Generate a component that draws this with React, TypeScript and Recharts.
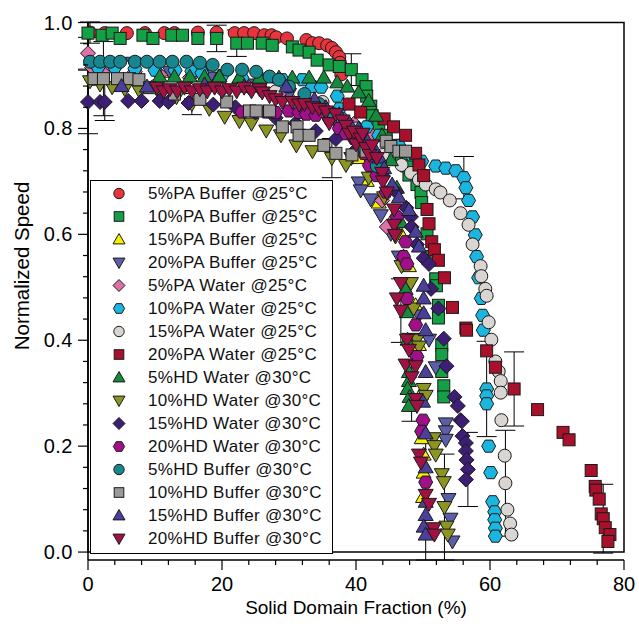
import React from 'react';
import { ScatterChart, Scatter, XAxis, YAxis, ReferenceArea, ErrorBar, Legend } from 'recharts';

type Pt = [number, number, number?];

const pa5Buffer: Pt[] = [[0.3,0.981,0.02],[2.5,0.98],[5.8,0.98],[8.5,0.98],[11.4,0.98],[12.9,0.98],[16.4,0.981],[19.2,0.981],[21.9,0.98],[23.3,0.98],[24.8,0.98],[26.3,0.976],[27.4,0.976],[28.1,0.972],[29.7,0.97],[32.6,0.967],[33.5,0.961],[34.5,0.961],[35.7,0.957],[36.4,0.952],[37.0,0.944],[37.5,0.935],[37.6,0.924],[37.8,0.902]];
const pa10Buffer: Pt[] = [[0,0.98],[2.1,0.976],[3.6,0.98],[4.8,0.97],[8.2,0.976],[9.7,0.97],[12.5,0.976],[14.1,0.976],[16.4,0.97],[19.2,0.97,0.025],[22.2,0.961,0.025],[23.8,0.961],[26.0,0.961],[27.5,0.957],[30.5,0.954],[31.5,0.948],[33.0,0.944],[34.2,0.929],[36.0,0.92],[37.5,0.917],[39.3,0.911,0.03],[40.9,0.892],[41.5,0.879],[41.6,0.861],[42.2,0.842],[42.4,0.824],[43.4,0.805],[44.5,0.787],[45.9,0.768],[46.8,0.744],[47.6,0.729],[47.9,0.712],[49.1,0.694],[49.7,0.679],[49.8,0.66],[50.6,0.601],[51.2,0.558],[51.9,0.516],[52.0,0.503],[52.3,0.466],[52.3,0.442],[52.8,0.391],[52.8,0.373],[52.8,0.341],[53.1,0.314],[53.1,0.293]];
const pa15Buffer: Pt[] = [[0.6,0.902],[7.0,0.911],[12.2,0.907],[17.4,0.907],[22.6,0.896],[26.0,0.879],[30.0,0.865],[34.5,0.846],[38.2,0.809],[40.4,0.744],[41.6,0.701],[43.4,0.66],[45.2,0.623],[46.7,0.601],[47.9,0.54],[48.9,0.466],[49.4,0.391],[49.7,0.299],[49.8,0.215],[50.1,0.184],[50.1,0.15],[50.0,0.104]];
const pa20Buffer: Pt[] = [[1.8,0.911],[6.7,0.924],[12.2,0.907],[18.1,0.896],[24.1,0.883],[30.0,0.865],[34.5,0.837],[37.5,0.8],[39.3,0.744],[40.4,0.698],[40.7,0.683],[42.2,0.666],[43.7,0.636],[45.2,0.601],[46.4,0.558],[47.9,0.503],[49.4,0.447],[50.9,0.401],[51.9,0.349],[53.4,0.243],[53.4,0.228],[53.4,0.212],[53.8,0.1],[54.1,0.063],[54.4,0.02]];
const pa5Water: Pt[] = [[0,0.942,0.03],[0.6,0.915],[2.1,0.907],[4.0,0.915],[7.0,0.907],[10.7,0.902],[15.2,0.896],[19.6,0.889],[24.1,0.877],[28.5,0.865],[33.0,0.846],[37.2,0.833],[39.7,0.809],[42.4,0.787],[43.1,0.744],[43.9,0.664],[44.6,0.614]];
const pa10Water: Pt[] = [[1.5,0.915],[4.0,0.915],[7.0,0.913],[10.0,0.91],[13.0,0.91],[15.5,0.908],[17.0,0.905],[20.0,0.9],[23.0,0.895],[26.0,0.893],[29.0,0.892],[32.0,0.892],[33.5,0.879],[34.8,0.878],[37.2,0.861],[37.5,0.837],[37.9,0.818],[41.6,0.803],[43.4,0.787],[46.4,0.768],[48.3,0.75],[49.8,0.738],[51.9,0.729],[53.4,0.725],[54.9,0.72],[56.1,0.707,0.04],[56.4,0.688],[56.8,0.664],[57.4,0.633],[57.8,0.599],[58.0,0.558],[58.3,0.518],[58.7,0.479],[58.9,0.447],[59.0,0.419],[59.5,0.308,0.09],[59.5,0.295],[59.5,0.28],[59.8,0.2],[60.1,0.15],[60.4,0.095],[60.7,0.076],[60.7,0.061],[60.8,0.045],[60.8,0.03]];
const pa15Water: Pt[] = [[10,0.88],[20,0.875],[28,0.87],[35,0.85],[40,0.8],[44,0.75],[46.8,0.731],[48.2,0.716],[49.4,0.703],[50.4,0.694],[51.9,0.685],[52.6,0.679],[54.0,0.664],[55.6,0.64],[56.8,0.618],[57.4,0.581],[58.6,0.54],[58.7,0.521],[59.3,0.497],[59.5,0.484],[59.8,0.434],[60.2,0.401],[60.8,0.36],[61.3,0.341],[61.6,0.323],[61.6,0.301],[61.7,0.249],[62.2,0.182],[62.3,0.13,0.1],[62.6,0.08],[63.0,0.054],[63.2,0.033]];
const pa20Water: Pt[] = [[38.96,0.846],[40.7,0.831],[44.2,0.818],[45.6,0.803],[47.4,0.787],[48.9,0.753],[49.4,0.731],[50.1,0.711],[50.6,0.647],[50.9,0.62],[51.3,0.586],[51.7,0.571],[52.3,0.551],[53.2,0.518],[54.4,0.462],[56.4,0.423],[56.5,0.419],[59.5,0.38],[60.8,0.349],[63.6,0.308,0.07],[67.1,0.269],[70.9,0.226],[71.8,0.212],[75.1,0.154],[75.7,0.124],[75.8,0.117],[76.3,0.1],[76.6,0.072],[76.9,0.063,0.065],[77.2,0.046],[77.9,0.033],[77.6,0.02]];
const hd5Water: Pt[] = [[1.0,0.892],[10.7,0.898],[12.9,0.898],[15.2,0.898],[17.4,0.898],[19.6,0.898],[22.6,0.896],[25.6,0.896],[28.5,0.896],[30.5,0.896],[33.0,0.896],[35.2,0.896],[37.2,0.887],[38.7,0.879],[40.4,0.868],[41.9,0.852],[43.0,0.824],[43.9,0.787],[45.2,0.74],[46.1,0.688],[46.7,0.623],[47.1,0.558],[47.4,0.497],[47.6,0.453],[47.7,0.401],[47.9,0.34],[47.9,0.323],[47.7,0.308],[48.0,0.293],[47.9,0.276]];
const hd10Water: Pt[] = [[0.3,0.889],[1.8,0.883],[3.6,0.878],[5.5,0.874],[7.7,0.87],[10.7,0.865],[13.2,0.859],[15.5,0.846,0.02],[18.1,0.837],[20.4,0.822],[22.6,0.814],[24.4,0.809],[26.6,0.796],[28.8,0.787],[31.1,0.768],[33.5,0.757],[36.4,0.744,0.037],[38.5,0.731],[41.9,0.707],[44.2,0.67],[45.9,0.596],[46.8,0.54],[48.2,0.508],[48.6,0.46],[49.1,0.401],[49.4,0.388],[50.1,0.308],[50.4,0.295],[51.6,0.215],[51.7,0.2],[51.9,0.184],[52.8,0.147],[53.1,0.132],[53.2,0.085,0.1],[53.5,0.048],[53.7,0.033]];
const hd15Water: Pt[] = [[0,0.85,0.06],[1.8,0.85],[2.5,0.85,0.035],[6,0.852],[8,0.852],[10.7,0.852],[12,0.85],[15,0.848],[18.7,0.845],[22,0.84],[25,0.83],[28,0.82],[31,0.81],[34,0.795],[37,0.78],[40,0.76],[44,0.71],[46,0.68],[47.5,0.65],[48.2,0.633],[48.3,0.614],[49.1,0.581],[50.1,0.555],[50.9,0.544],[51.2,0.497],[52.3,0.46],[53.1,0.403],[53.5,0.351],[54.7,0.293],[55.2,0.276],[55.6,0.249],[55.8,0.247],[55.9,0.219],[56.4,0.206],[56.4,0.191],[56.5,0.174],[56.7,0.156,0.07],[56.4,0.137]];
const hd20Water: Pt[] = [[23,0.831],[26.6,0.831],[28,0.83],[30,0.833],[31.5,0.83],[32.6,0.827],[34,0.825],[36,0.818],[37.5,0.8],[38.5,0.79],[39.7,0.781],[41.2,0.753],[42,0.73],[43.1,0.711],[44.5,0.68],[46.1,0.633],[47.4,0.586],[47.1,0.558],[47.6,0.544],[47.6,0.479],[48.9,0.429],[49.1,0.369],[50.0,0.249],[49.8,0.228],[50.4,0.132]];
const hd5Buffer: Pt[] = [[0.3,0.926],[1.8,0.926],[3.3,0.926],[4.8,0.926],[7.0,0.926],[8.8,0.926],[10.7,0.926],[12.6,0.926],[14.7,0.926],[16.7,0.924],[18.6,0.92],[20.8,0.911],[23.0,0.911],[25.1,0.907],[27.1,0.898],[28.5,0.892],[30.0,0.879],[32.3,0.865],[34.5,0.846],[36.7,0.827],[41.2,0.763],[43.1,0.729]];
const hd10Buffer: Pt[] = [[0.9,0.894],[2.3,0.894,0.07],[4.4,0.894],[6.2,0.894],[7.6,0.892],[9.2,0.877],[12.9,0.865],[16.7,0.855],[20.7,0.85],[24.1,0.833],[25.1,0.833],[27.1,0.833],[29.0,0.803],[31.2,0.803],[31.5,0.787],[33.0,0.787],[35.2,0.768],[37.0,0.753],[39.4,0.75],[41.5,0.757],[44.5,0.776],[45.2,0.766],[46.4,0.757],[47.4,0.757]];
const hd15Buffer: Pt[] = [[5,0.88],[8.8,0.879],[17.4,0.883],[23.3,0.879],[29.6,0.879],[33.8,0.855],[35.5,0.84],[37.5,0.827],[39,0.81],[40.4,0.8],[41.5,0.78],[42.7,0.763],[43.5,0.745],[44.2,0.725],[45.4,0.694],[46.4,0.67],[47.9,0.646],[48.9,0.605],[49.4,0.577],[50.1,0.503],[50.1,0.479],[50.1,0.451],[50.4,0.419],[50.4,0.34],[50.0,0.284],[50.4,0.224],[50.4,0.16],[50.4,0.095,0.11],[50.4,0.07],[50.1,0.048],[50.4,0.033]];
const hd20Buffer: Pt[] = [[10.3,0.877],[11.3,0.87],[12.2,0.874],[13.3,0.87],[14.4,0.877],[15.5,0.87],[16.7,0.874],[17.8,0.87],[18.9,0.877],[20,0.87],[21.1,0.874],[22.2,0.87],[23.3,0.877],[24.4,0.87],[25.6,0.874],[26,0.868],[27.1,0.861],[28,0.855],[29.0,0.85],[30.5,0.85],[31.5,0.845],[32.3,0.846],[33.5,0.84],[34.5,0.837],[35.5,0.832],[36,0.81],[37.0,0.827],[38,0.815],[38.5,0.805],[39,0.79],[39.7,0.794],[40,0.77],[40.7,0.781],[41,0.79],[41.5,0.763],[42,0.75],[42.4,0.768],[43.1,0.744],[43.9,0.716],[44,0.7],[44.6,0.679],[45.7,0.647],[45.7,0.618],[45.8,0.599],[46.7,0.508],[46.1,0.479],[46.7,0.456,0.06],[47.6,0.401],[47.9,0.382],[47.4,0.354],[48.9,0.351],[48.3,0.33,0.083],[48.9,0.289],[49.1,0.276],[49.4,0.184],[49.7,0.169],[50.4,0.108],[50.9,0.091],[51.6,0.045],[51.7,0.033]];

const seriesNames = ['5%PA Buffer @25°C','10%PA Buffer @25°C','15%PA Buffer @25°C','20%PA Buffer @25°C','5%PA Water @25°C','10%PA Water @25°C','15%PA Water @25°C','20%PA Water @25°C','5%HD Water @30°C','10%HD Water @30°C','15%HD Water @30°C','20%HD Water @30°C','5%HD Buffer @30°C','10%HD Buffer @30°C','15%HD Buffer @30°C','20%HD Buffer @30°C'];
const seriesData: Pt[][] = [pa5Buffer,pa10Buffer,pa15Buffer,pa20Buffer,pa5Water,pa10Water,pa15Water,pa20Water,hd5Water,hd10Water,hd15Water,hd20Water,hd5Buffer,hd10Buffer,hd15Buffer,hd20Buffer];
const seriesColors = ['#e8343c','#14a044','#f5f000','#5b5ea8','#e070a8','#1ab6e0','#d9d5d3','#a8102c','#168a3c','#8c9422','#3c1f74','#a01088','#17868f','#9c9a99','#4b3f9c','#a01244'];
type Kind = 'circle'|'square'|'triUp'|'triDown'|'diamond'|'hexagon';
const seriesKinds: Kind[] = ['circle','square','triUp','triDown','diamond','hexagon','circle','square','triUp','triDown','diamond','hexagon','circle','square','triUp','triDown'];

const xTicks = [0,4,8,12,16,20,24,28,32,36,40,44,48,52,56,60,64,68,72,76,80];
const xMajor = [0,20,40,60,80];
const yTicks = [0,0.04,0.08,0.12,0.16,0.2,0.24,0.28,0.32,0.36,0.4,0.44,0.48,0.52,0.56,0.6,0.64,0.68,0.72,0.76,0.8,0.84,0.88,0.92,0.96,1.0];
const yMajor = [0,0.2,0.4,0.6,0.8,1.0];

const FONT = '"Liberation Sans", Arial, Helvetica, sans-serif';

function marker(kind: Kind, cx: number, cy: number, fill: string, s = 1) {
  const st = { fill, stroke: '#1a1a1a', strokeWidth: 1 };
  switch (kind) {
    case 'circle':
      return <circle cx={cx} cy={cy} r={6.5 * s} {...st} />;
    case 'square':
      return <rect x={cx - 6 * s} y={cy - 6 * s} width={12 * s} height={12 * s} {...st} />;
    case 'triUp':
      return <polygon points={`${cx},${cy - 7.5 * s} ${cx + 7.5 * s},${cy + 5.5 * s} ${cx - 7.5 * s},${cy + 5.5 * s}`} {...st} />;
    case 'triDown':
      return <polygon points={`${cx},${cy + 7.5 * s} ${cx + 7.5 * s},${cy - 5.5 * s} ${cx - 7.5 * s},${cy - 5.5 * s}`} {...st} />;
    case 'diamond':
      return <polygon points={`${cx},${cy - 7.5 * s} ${cx + 7.5 * s},${cy} ${cx},${cy + 7.5 * s} ${cx - 7.5 * s},${cy}`} {...st} />;
    case 'hexagon': {
      const r = 7 * s;
      const pts = [0, 60, 120, 180, 240, 300].map((a) => {
        const t = (a * Math.PI) / 180;
        return `${cx + r * Math.cos(t)},${cy + r * Math.sin(t)}`;
      }).join(' ');
      return <polygon points={pts} {...st} />;
    }
  }
}

const XTick = (props: any) => {
  const { x, y, payload } = props;
  const v = payload.value;
  const major = xMajor.includes(v);
  return (
    <g>
      <line x1={x} x2={x} y1={y} y2={y + (major ? 10 : 5)} stroke="#000" strokeWidth={1.2} />
      {major && (
        <text x={x} y={y + 31} textAnchor="middle" fontSize={20} fontFamily={FONT} fill="#000">{v}</text>
      )}
    </g>
  );
};

const YTick = (props: any) => {
  const { x, y, payload } = props;
  const v = payload.value;
  const major = yMajor.some((m) => Math.abs(m - v) < 1e-6);
  return (
    <g>
      <line x1={x - (major ? 10 : 5)} x2={x} y1={y} y2={y} stroke="#000" strokeWidth={1.2} />
      {major && (
        <text x={x - 15} y={y + 7} textAnchor="end" fontSize={20} fontFamily={FONT} fill="#000" letterSpacing={0.5}>{v.toFixed(1)}</text>
      )}
    </g>
  );
};

const LegendBox = () => (
  <div style={{ width: 243, height: 374, border: '1px solid #000', background: '#fff', boxSizing: 'border-box', paddingTop: 1, fontFamily: FONT }}>
    {seriesNames.map((n, i) => (
      <div key={n} style={{ height: 23, display: 'flex', alignItems: 'center' }}>
        <svg width={57} height={23} style={{ display: 'block' }}>
          {marker(seriesKinds[i], 28, 11.5, seriesColors[i], 0.8)}
        </svg>
        <span style={{ fontSize: 17, color: '#111', whiteSpace: 'nowrap', letterSpacing: 0.3 }}>{n}</span>
      </div>
    ))}
  </div>
);

export default function App() {
  return (
    <div style={{ position: 'absolute', left: 0, top: 0, width: 639, height: 628, background: '#fff' }}>
      <ScatterChart width={639} height={628} margin={{ top: 22, right: 15, bottom: 8, left: 8 }}>
        <XAxis type="number" dataKey="x" domain={[0, 80]} ticks={xTicks} interval={0} tickSize={0} tickMargin={0} tick={<XTick />} height={60} axisLine={{ stroke: '#000', strokeWidth: 1.5 }}
          label={{ content: () => <text x={356} y={614} textAnchor="middle" fontSize={19} fontFamily={FONT} fill="#000">Solid Domain Fraction (%)</text> }} />
        <YAxis type="number" dataKey="y" domain={[0, 1]} ticks={yTicks} interval={0} tickSize={0} tickMargin={0} tick={<YTick />} width={80} axisLine={{ stroke: '#000', strokeWidth: 1.5 }}
          label={{ content: () => <text x={29} y={266} transform="rotate(-90 29 266)" textAnchor="middle" fontSize={20.5} fontFamily={FONT} fill="#000">Normalized Speed</text> }} />
        <ReferenceArea x1={0} x2={80} y1={0} y2={1} fill="none" stroke="#000" strokeWidth={1.5} ifOverflow="visible" />
        {seriesData.map((d, i) => {
          const data = d.map((p) => ({ x: p[0], y: p[1], err: p[2] }));
          const kind = seriesKinds[i];
          const color = seriesColors[i];
          return (
            <Scatter key={seriesNames[i]} name={seriesNames[i]} data={data} isAnimationActive={false}
              shape={(props: any) => marker(kind, props.cx, props.cy, color) as any}>
              <ErrorBar dataKey="err" direction="y" width={10} stroke="#000" strokeWidth={1} />
            </Scatter>
          );
        })}
        <Legend layout="vertical" align="center" verticalAlign="middle" content={() => <LegendBox />}
          wrapperStyle={{ left: 90, top: 180, width: 243, height: 374 }} />
      </ScatterChart>
    </div>
  );
}
